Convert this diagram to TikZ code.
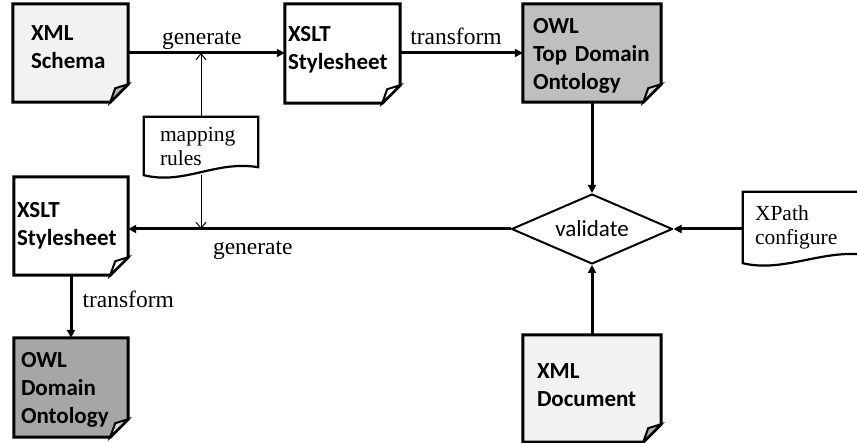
\documentclass[tikz,border=0pt]{standalone}
\usepackage{fontspec}
\setmainfont{Liberation Serif}
\newfontfamily\calibri{Carlito}
\usepackage{xcolor}
\usetikzlibrary{arrows.meta,shapes.geometric,backgrounds}
\hyphenpenalty=10000

\definecolor{docLight}{HTML}{F2F2F2}
\definecolor{topGray}{HTML}{BFBFBF}
\definecolor{domGray}{HTML}{A6A6A6}
\definecolor{flapGray}{HTML}{B0B0B0}
\definecolor{flapLight}{HTML}{D4D4D4}

\tikzset{
  docbox/.style 2 args={align=left, inner xsep=#1, inner ysep=0pt, text width=#2,
    font=\calibri\bfseries\fontsize{23}{28}\selectfont},
  wavebox/.style 2 args={align=left, inner xsep=#1, inner ysep=0pt, text width=#2,
    font=\fontsize{21.5}{24}\selectfont},
  flow/.style={line width=3pt, -{Triangle[length=8pt,width=8pt]}},
  thinflow/.style={line width=1pt, -{Straight Barb[length=6pt,width=10pt]}},
  lbl/.style={font=\fontsize{23.5}{26}\selectfont, inner sep=2pt, text depth=5pt},
  docline/.style={line width=3pt},
}

\begin{document}
\begin{tikzpicture}[x=1pt, y=-1pt, line join=round]
  \useasboundingbox (0,0) rectangle (857,443);

  \node[docbox={18pt}{79pt}, minimum height=98pt, text depth=40pt] (xsd) at (70.5,53) {XML\\Schema};
  \node[docbox={3pt}{109pt}, minimum height=99pt, text depth=39pt] (xslTop) at (342.5,53.5) {XSLT\\Stylesheet};
  \node[docbox={10pt}{118pt}, minimum height=98pt, text depth=55pt] (owlTop) at (592,53) {OWL\\Top Domain\\Ontology};
  \node[docbox={3pt}{108pt}, minimum height=98pt] (xslLeft) at (71,226) {XSLT\\Stylesheet};
  \node[docbox={7pt}{100pt}, minimum height=99pt, text depth=56pt] (owlDom) at (71,387.5) {OWL\\Domain\\Ontology};
  \node[docbox={14pt}{110pt}, minimum height=107pt, text depth=35pt] (xmlDoc) at (592,388.5) {XML\\Document};

  \node[wavebox={16pt}{82pt}, minimum height=58pt] (rules) at (201,146) {mapping\\rules};
  \node[wavebox={12pt}{100pt}, minimum height=71pt] (xpath) at (805,227.5) {XPath\\configure};

  \node[diamond, draw, line width=2pt, aspect=2.3, minimum width=161pt, minimum height=70pt,
    inner sep=0pt, font=\calibri\fontsize{23}{26}\selectfont] (val) at (592,229) {validate};

  \begin{scope}[on background layer]
    \foreach \n/\c/\f in {xsd/docLight/flapGray, xslTop/white/white, owlTop/topGray/flapLight,
        xslLeft/white/white, owlDom/domGray/flapLight, xmlDoc/docLight/flapGray}{
      \filldraw[docline, fill=\c] (\n.north west) -- (\n.north east) -- ([yshift=18pt]\n.south east)
        -- ([xshift=-18pt]\n.south east) -- (\n.south west) -- cycle;
      \filldraw[fill=\f, line width=2pt] ([xshift=-18pt]\n.south east)
        -- ([xshift=-13pt,yshift=14pt]\n.south east) -- ([yshift=18pt]\n.south east) -- cycle;
    }
    \foreach \n in {rules, xpath}{
      \filldraw[fill=white, line width=2.2pt] (\n.south west) -- (\n.north west) -- (\n.north east)
        -- ([yshift=8pt]\n.south east)
        .. controls ([xshift=-43pt,yshift=15pt]\n.south east) and ([xshift=41pt,yshift=-10pt]\n.south west)
        .. (\n.south west) -- cycle;
    }
  \end{scope}

  \draw[flow] (xsd.east) -- node[lbl, above, pos=.47] {generate} (xsd.east -| xslTop.west);
  \draw[flow] (xslTop.east |- owlTop.west) -- node[lbl, above, pos=.455] {transform} (owlTop.west);
  \draw[flow] (owlTop) -- (val);
  \draw[flow] (val.west) -- node[lbl, anchor=base, yshift=-26pt, pos=.674] {generate} (val.west -| xslLeft.east);
  \draw[flow] (xpath.west |- val.east) -- (val.east);
  \draw[flow] (xmlDoc) -- (val);
  \draw[flow] (xslLeft) -- node[lbl, anchor=base west, xshift=8pt, yshift=-1.5pt] {transform} (owlDom);

  \coordinate (genTop) at (rules.north |- xsd.east);
  \coordinate (genLeft) at (rules.south |- val.west);
  \draw[thinflow] (rules) -- (genTop);
  \draw[thinflow] (rules.south) -- (genLeft);
\end{tikzpicture}
\end{document}
